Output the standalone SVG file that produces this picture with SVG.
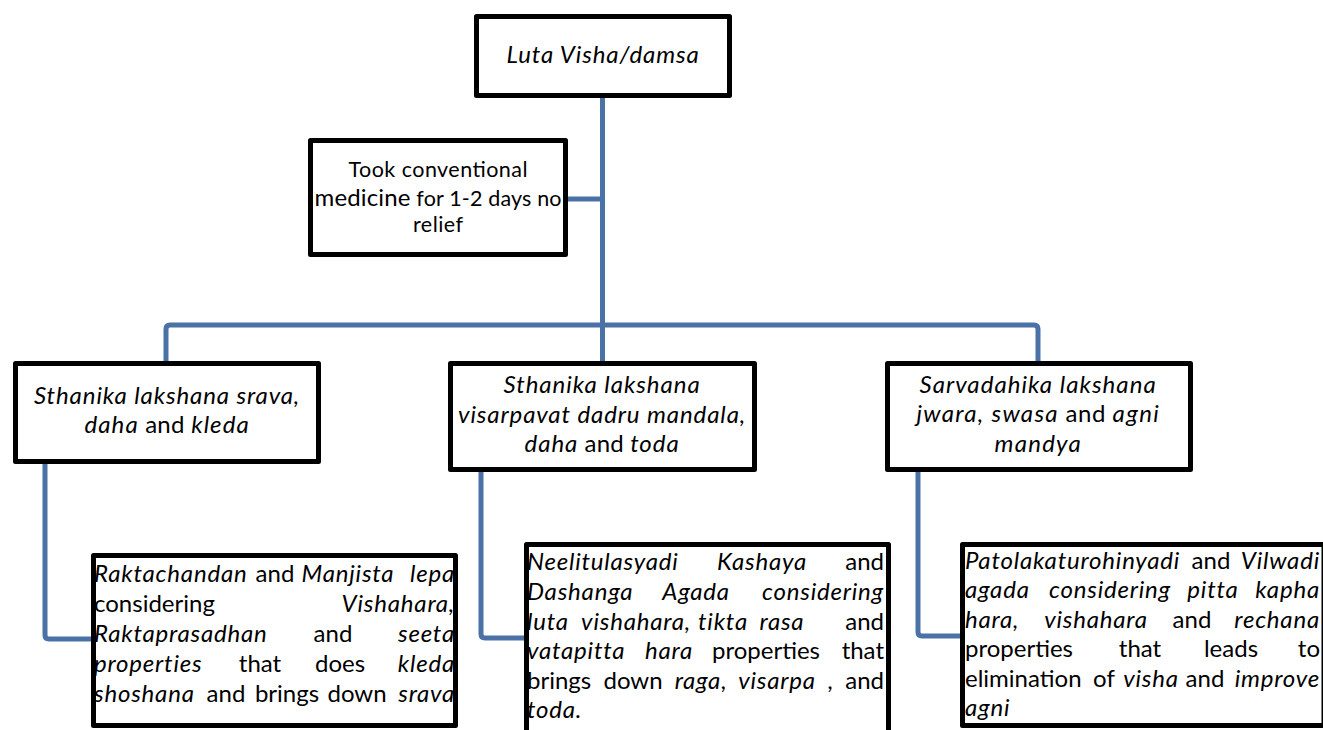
<svg xmlns="http://www.w3.org/2000/svg" width="1323" height="730" viewBox="0 0 1323 730">
<style>
.box{fill:#fff;stroke:#000;stroke-width:5;stroke-linejoin:round}
.conn{fill:none;stroke:#4a72a6;stroke-width:5}
text{font-family:Lato,"Liberation Sans",sans-serif;font-size:24px;fill:#000}
.i{font-style:italic;font-size:24px;letter-spacing:0.8px}
.c{text-anchor:middle}
.e{text-anchor:end}
.s{font-size:21.5px}
</style>
<rect width="1323" height="730" fill="#fff"/>
<g id="connectors">
<path class="conn" d="M602.5,98 V361"/>
<path class="conn" d="M568,199 H602.5"/>
<path class="conn" d="M166,361 V329 Q166,325 170,325 H1034 Q1038,325 1038,329 V361"/>
<path class="conn" d="M45,464 V635 Q45,639 49,639 H91"/>
<path class="conn" d="M481,472 V634 Q481,638 485,638 H524"/>
<path class="conn" d="M918,472 V632 Q918,636 922,636 H960"/>
</g>
<g id="n-top">
<rect class="box" x="476.5" y="16.5" width="253" height="79"/>
<text x="603" y="63" class="c i" textLength="193">Luta Visha/damsa</text>
</g>
<g id="n-took">
<rect class="box" x="310.5" y="140.5" width="255" height="114"/>
<text x="438" y="177" class="c s" textLength="179">Took conventional</text>
<text x="438" y="206" class="c s" textLength="247"><tspan font-size="24">medicine</tspan> for 1-2 days no</text>
<text x="438" y="232" class="c s" textLength="50">relief</text>
</g>
<g id="n-mid-left">
<rect class="box" x="15.5" y="363.5" width="303" height="98"/>
<text x="167" y="404" class="c i" textLength="266">Sthanika lakshana srava,</text>
<text x="167" y="433" class="c" textLength="165"><tspan class="i">daha</tspan> and <tspan class="i">kleda</tspan></text>
</g>
<g id="n-mid-center">
<rect class="box" x="450.5" y="363.5" width="304" height="106"/>
<text x="602" y="393" class="c i" textLength="197">Sthanika lakshana</text>
<text x="602" y="423" class="c i" textLength="288">visarpavat dadru mandala,</text>
<text x="602" y="452" class="c" textLength="155"><tspan class="i">daha</tspan> and <tspan class="i">toda</tspan></text>
</g>
<g id="n-mid-right">
<rect class="box" x="887.5" y="363.5" width="303" height="106"/>
<text x="1038" y="393" class="c i" textLength="237">Sarvadahika lakshana</text>
<text x="1038" y="422" class="c" textLength="243"><tspan class="i">jwara, swasa</tspan> and <tspan class="i">agni</tspan></text>
<text x="1038" y="452" class="c i" textLength="87">mandya</text>
</g>
<g id="n-bot-left">
<rect class="box" x="93.5" y="555.5" width="362" height="170"/>
<text y="582"><tspan x="94" class="i">Raktachandan</tspan><tspan x="275" class="c">and</tspan><tspan x="348" class="c i">Manjista</tspan><tspan x="455" class="e i">lepa</tspan></text>
<text y="612"><tspan x="94">considering</tspan><tspan x="455" class="e i">Vishahara,</tspan></text>
<text y="642"><tspan x="94" class="i">Raktaprasadhan</tspan><tspan x="333" class="c">and</tspan><tspan x="455" class="e i">seeta</tspan></text>
<text y="672"><tspan x="94" class="i">properties</tspan><tspan x="260" class="c">that</tspan><tspan x="340" class="c">does</tspan><tspan x="455" class="e i">kleda</tspan></text>
<text y="702"><tspan x="94" class="i">shoshana</tspan><tspan x="226" class="c">and</tspan><tspan x="287" class="c">brings</tspan><tspan x="357" class="c">down</tspan><tspan x="455" class="e i">srava</tspan></text>
</g>
<g id="n-bot-center">
<rect class="box" x="526.5" y="544.5" width="362" height="200"/>
<text y="570"><tspan x="527" class="i">Neelitulasyadi</tspan><tspan x="762" class="c i">Kashaya</tspan><tspan x="884" class="e">and</tspan></text>
<text y="600"><tspan x="527" class="i">Dashanga</tspan><tspan x="696" class="c i">Agada</tspan><tspan x="884" class="e i">considering</tspan></text>
<text y="630"><tspan x="527" class="i">luta</tspan><tspan x="636" class="c i">vishahara,</tspan><tspan x="723" class="c i">tikta</tspan><tspan x="782" class="c i">rasa</tspan><tspan x="884" class="e">and</tspan></text>
<text y="659"><tspan x="527" class="i">vatapitta</tspan><tspan x="669" class="c i">hara</tspan><tspan x="766" class="c">properties</tspan><tspan x="884" class="e">that</tspan></text>
<text y="689"><tspan x="527">brings</tspan><tspan x="633" class="c">down</tspan><tspan x="701" class="c i">raga,</tspan><tspan x="777" class="c i">visarpa</tspan><tspan x="830" class="c">,</tspan><tspan x="884" class="e">and</tspan></text>
<text y="718"><tspan x="527" class="i">toda.</tspan></text>
</g>
<g id="n-bot-right">
<rect class="box" x="962.5" y="544.5" width="361.5" height="181"/>
<text y="569"><tspan x="965" class="i">Patolakaturohinyadi</tspan><tspan x="1211" class="c">and</tspan><tspan x="1320" class="e i">Vilwadi</tspan></text>
<text y="598"><tspan x="965" class="i">agada</tspan><tspan x="1110" class="c i">considering</tspan><tspan x="1213" class="c i">pitta</tspan><tspan x="1320" class="e i">kapha</tspan></text>
<text y="628"><tspan x="965" class="i">hara,</tspan><tspan x="1096" class="c i">vishahara</tspan><tspan x="1192" class="c">and</tspan><tspan x="1320" class="e i">rechana</tspan></text>
<text y="657"><tspan x="965">properties</tspan><tspan x="1140" class="c">that</tspan><tspan x="1231" class="c">leads</tspan><tspan x="1320" class="e">to</tspan></text>
<text y="687"><tspan x="965">elimination</tspan><tspan x="1104" class="c">of</tspan><tspan x="1151" class="c i">visha</tspan><tspan x="1205" class="c">and</tspan><tspan x="1320" class="e i">improve</tspan></text>
<text y="716"><tspan x="965" class="i">agni</tspan></text>
</g>
</svg>
